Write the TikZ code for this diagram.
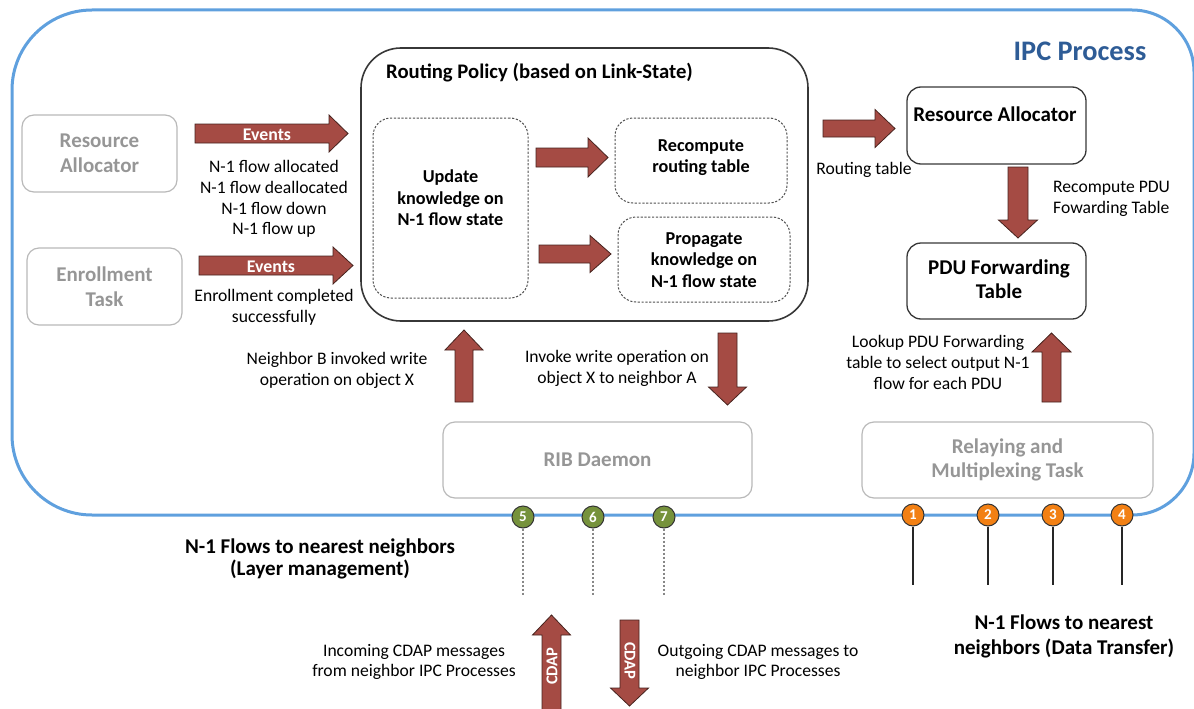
\documentclass[tikz,border=0pt]{standalone}
\usepackage{fontspec}
\setmainfont{Carlito}
\definecolor{ipcblue}{RGB}{95,160,222}
\definecolor{ipctext}{RGB}{46,92,150}
\definecolor{arrowred}{RGB}{165,75,68}
\definecolor{arrowedge}{RGB}{70,35,30}
\definecolor{boxgray}{RGB}{185,185,185}
\definecolor{textgray}{RGB}{150,150,150}
\definecolor{boxdark}{RGB}{55,55,55}
\definecolor{dashgray}{RGB}{80,80,80}
\definecolor{dotgreen}{RGB}{118,146,60}
\definecolor{dotorange}{RGB}{242,128,20}
\definecolor{dotgray}{RGB}{135,135,135}
\newcommand\ftnote{\fontsize{17.6}{20.7}\selectfont}
\newcommand\ftbold{\fontsize{18.2}{21.5}\selectfont\bfseries}
\newcommand\ftboldbig{\fontsize{21}{24}\selectfont\bfseries}
\newcommand\fttitle{\fontsize{20.7}{22}\selectfont\bfseries}
\newcommand\ftgray{\fontsize{21}{24.5}\selectfont\bfseries}
\newcommand\ftlabel{\fontsize{21}{22.5}\selectfont\bfseries}
\newcommand\ftipc{\fontsize{28.3}{30}\selectfont\bfseries}
\newcommand\ftevents{\fontsize{17.8}{18}\selectfont\bfseries}
\newcommand\ftcdap{\fontsize{16.5}{18}\selectfont\bfseries}
\newcommand\ftnum{\fontsize{15}{16}\selectfont\bfseries}
% horizontal block arrow: tail x, tip x, head base x, centre y, half shaft, half head
\newcommand\blockH[6]{%
  \filldraw[blockarrow] (#1,#4-#5) -- (#3,#4-#5) -- (#3,#4-#6) -- (#2,#4)
    -- (#3,#4+#6) -- (#3,#4+#5) -- (#1,#4+#5) -- cycle;}
% vertical block arrow: tail y, tip y, head base y, centre x, half shaft, half head
\newcommand\blockV[6]{%
  \filldraw[blockarrow] (#4-#5,#1) -- (#4-#5,#3) -- (#4-#6,#3) -- (#4,#2)
    -- (#4+#6,#3) -- (#4+#5,#3) -- (#4+#5,#1) -- cycle;}
\begin{document}
\begin{tikzpicture}[x=1pt,y=-1pt,
  ipcline/.style={draw=ipcblue, line width=3pt},
  graybox/.style={draw=boxgray, line width=1.2pt, rounded corners=12pt, text=textgray,
    font=\ftgray, align=center, inner sep=0pt},
  darkbox/.style={draw=boxdark, line width=1.3pt, rounded corners=14pt, inner sep=0pt},
  dashbox/.style={draw=dashgray, line width=1pt, dash pattern=on 2.2pt off 1.6pt,
    rounded corners=18pt, inner sep=0pt},
  blockarrow/.style={fill=arrowred, draw=arrowedge, line width=0.8pt, line join=miter},
  note/.style={font=\ftnote, align=center, inner sep=0pt},
  boldnote/.style={font=\ftbold, align=center, inner sep=0pt},
  flowlabel/.style={font=\ftlabel, align=center, inner sep=0pt},
  arrowtext/.style={text=white, inner sep=0pt},
  greendot/.style={circle, fill=dotgreen, draw=black!80, line width=1pt, minimum size=22pt,
    inner sep=0pt, text=white, font=\ftnum},
  orangedot/.style={circle, fill=dotorange, draw=black!80, line width=1pt, minimum size=22pt,
    inner sep=0pt, text=white, font=\ftnum},
  dotline/.style={draw=dotgray, line width=2pt, dash pattern=on 2pt off 2pt},
  flowline/.style={draw=black!85, line width=2.5pt}]
\useasboundingbox (0,0) rectangle (1194,709);

% IPC process boundary
\draw[ipcline] (92,10) -- (1132,10) arc[start angle=-90, end angle=0, radius=62]
  -- (1194,453) arc[start angle=0, end angle=90, radius=62]
  -- (92,515) arc[start angle=90, end angle=180, radius=80]
  -- (12,90) arc[start angle=180, end angle=270, radius=80] -- cycle;
\node[font=\ftipc, text=ipctext, inner sep=0pt] (ipc) at (1080,51) {IPC Process};

% left-hand components
\node[graybox, minimum width=155pt, minimum height=77pt] (raleft) at (99.5,153.5) {Resource\\Allocator};
\node[graybox, minimum width=155pt, minimum height=77pt] (enroll) at (104.5,286.5) {Enrollment\\Task};

% event arrows
\blockH{195}{348}{329}{133.5}{9.5}{18.5}
\node[arrowtext, font=\ftevents] (ev1) at (267,135) {Events};
\node[note] (evlist) at (274,199) {N-1 flow allocated\\N-1 flow deallocated\\N-1 flow down\\N-1 flow up};
\blockH{199}{353}{333}{265.5}{9.5}{18.5}
\node[arrowtext, font=\ftevents] (ev2) at (271,267) {Events};
\node[note] (evenroll) at (274,307.5) {Enrollment completed\\successfully};

% routing policy
\node[draw=boxdark, line width=1.6pt, rounded corners=40pt, minimum width=447pt,
  minimum height=273pt, inner sep=0pt] (routing) at (584.5,184.5) {};
\node[font=\fttitle, anchor=west, inner sep=0pt] (routingtitle) at (386,73) {Routing Policy (based on Link-State)};
\node[dashbox, minimum width=155pt, minimum height=180pt] (update) at (450.5,208) {};
\node[boldnote] (updatetext) at (450.5,198) {Update\\knowledge on\\N-1 flow state};
\node[dashbox, minimum width=172pt, minimum height=85pt] (recompute) at (701,160.5) {};
\node[boldnote] (recomputetext) at (701,157.5) {Recompute\\routing table};
\node[dashbox, minimum width=172pt, minimum height=85pt] (propagate) at (704,259.5) {};
\node[boldnote] (propagatetext) at (704,260) {Propagate\\knowledge on\\N-1 flow state};
\blockH{536}{608}{588}{157.5}{9.5}{19.5}
\blockH{539}{611}{590}{254}{9}{18.5}

% routing table to resource allocator
\blockH{823}{895}{875}{128.5}{8.5}{19}
\node[note] (rtlabel) at (864,170) {Routing table};
\node[darkbox, minimum width=179pt, minimum height=77pt] (raright) at (996.5,125.5) {};
\node[font=\ftboldbig, inner sep=0pt] (rarighttext) at (995,114) {Resource Allocator};
\blockV{167}{238}{220}{1018}{10}{19.5}
\node[note, align=left, anchor=west] (recomputepdu) at (1053,199) {Recompute PDU\\Fowarding Table};
\node[darkbox, minimum width=179pt, minimum height=76pt] (pdu) at (996.5,281) {};
\node[font=\ftboldbig, align=center, inner sep=0pt] (pdutext) at (999,279) {PDU Forwarding\\Table};
\blockV{402}{333}{352}{1051.5}{9.5}{19.5}
\node[note] (lookup) at (938,362.5) {Lookup PDU Forwarding\\table to select output N-1\\flow for each PDU};

% RIB daemon exchanges
\blockV{402}{330}{350}{464}{9}{19}
\node[note] (neighborb) at (337,370.5) {Neighbor B invoked write\\operation on object X};
\blockV{333}{405}{387}{727.5}{9.5}{19}
\node[note] (invoke) at (617,368.5) {Invoke write operation on\\object X to neighbor A};
\node[graybox, minimum width=309pt, minimum height=76pt] (rib) at (597.5,460) {RIB Daemon};
\node[graybox, minimum width=291pt, minimum height=76pt] (relay) at (1007.5,460) {Relaying and\\Multiplexing Task};

% management flows
\node[greendot] (g5) at (523,517) {5};
\node[greendot] (g6) at (593,517) {6};
\node[greendot] (g7) at (664,517) {7};
\coordinate (g5end) at (523,595);
\coordinate (g6end) at (593,595);
\coordinate (g7end) at (664,595);
\draw[dotline] (g5.south) -- (g5end);
\draw[dotline] (g6.south) -- (g6end);
\draw[dotline] (g7.south) -- (g7end);
\node[flowlabel] (mgmt) at (320,559) {N-1 Flows to nearest neighbors\\(Layer management)};

% data transfer flows
\node[orangedot] (o1) at (913,515) {1};
\node[orangedot] (o2) at (988,515) {2};
\node[orangedot] (o3) at (1053,515) {3};
\node[orangedot] (o4) at (1122,515) {4};
\coordinate (o1end) at (913,585);
\coordinate (o2end) at (988,585);
\coordinate (o3end) at (1053,585);
\coordinate (o4end) at (1122,585);
\draw[flowline] (o1.south) -- (o1end);
\draw[flowline] (o2.south) -- (o2end);
\draw[flowline] (o3.south) -- (o3end);
\draw[flowline] (o4.south) -- (o4end);
\node[flowlabel] (data) at (1064,636) {N-1 Flows to nearest\\[2.5pt]neighbors (Data Transfer)};

% CDAP messages
\blockV{712}{615}{635}{551.5}{9.5}{19}
\node[arrowtext, font=\ftcdap, rotate=90] (cdapin) at (552,666) {CDAP};
\blockV{620}{706}{688}{629.5}{9.5}{19}
\node[arrowtext, font=\ftcdap, rotate=-90] (cdapout) at (630,661) {CDAP};
\node[note] (incoming) at (414,662) {Incoming CDAP messages\\from neighbor IPC Processes};
\node[note] (outgoing) at (758,662) {Outgoing CDAP messages to\\neighbor IPC Processes};
\end{tikzpicture}
\end{document}
